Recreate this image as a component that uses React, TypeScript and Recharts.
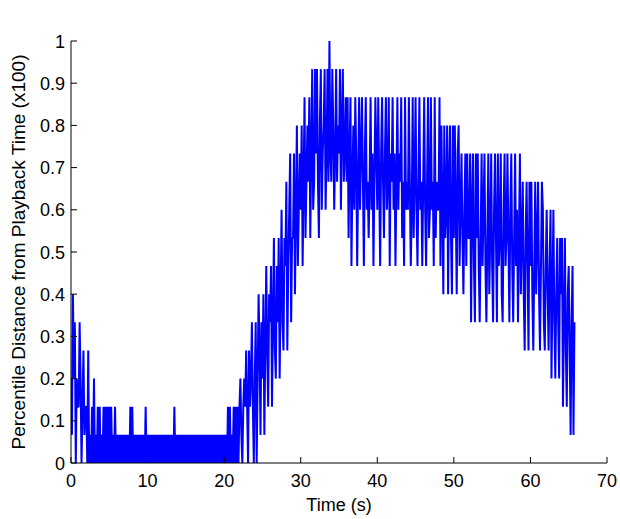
import React from 'react';
import { LineChart, Line, XAxis, YAxis } from 'recharts';

// Sampling period of the recorded trace (seconds) and quantisation of the
// buffer value: every sample sits on a multiple of 1/15.
const SAMPLE_PERIOD_S = 0.125;
const LEVELS_PER_UNIT = 15;

// Levels (in fifteenths), one row per second.
const startLevels = [
  3, 1, 6, 3, 5, 0, 3, 2,
  2, 5, 3, 0, 2, 4, 1, 2,
];

const flatLevels = [
  2, 0, 4, 0, 1, 0, 2, 0,
  3, 0, 1, 0, 2, 0, 2, 0,
  1, 0, 2, 0, 2, 0, 2, 0,
  2, 0, 2, 0, 1, 0, 2, 0,
  1, 0, 1, 0, 1, 0, 1, 0,
  1, 0, 1, 0, 1, 0, 2, 0,
  2, 0, 1, 0, 1, 0, 1, 0,
  1, 0, 1, 0, 1, 0, 2, 0,
  1, 0, 1, 0, 1, 0, 1, 0,
  1, 0, 1, 0, 1, 0, 1, 0,
  1, 0, 1, 0, 1, 0, 1, 0,
  1, 0, 1, 0, 2, 0, 1, 0,
  1, 0, 1, 0, 1, 0, 1, 0,
  1, 0, 1, 0, 1, 0, 1, 0,
  1, 0, 1, 0, 1, 0, 1, 0,
  1, 0, 1, 0, 1, 0, 1, 0,
  1, 0, 1, 0, 1, 0, 1, 0,
  1, 0, 1, 0, 1, 0, 1, 0,
  1, 0, 1, 0, 2, 0, 2, 0,
  1, 0, 2, 0, 2, 0, 2, 0,
];

const riseLevels = [
  2, 3, 1, 0, 2, 3, 2, 4,
  2, 0, 4, 2, 3, 5, 2, 0,
  3, 5, 0, 3, 6, 4, 1, 5,
  3, 6, 1, 4, 7, 4, 2, 6,
  5, 7, 2, 5, 8, 4, 3, 7,
  5, 8, 3, 6, 9, 5, 4, 8,
  7, 10, 4, 7, 9, 11, 5, 8,
  8, 11, 6, 9, 12, 7, 9, 11,
  9, 12, 7, 10, 13, 8, 10, 12,
];

const plateauLevels = [
  10, 13, 8, 11, 14, 9, 10, 14,
  11, 14, 10, 8, 12, 14, 9, 11,
  12, 14, 9, 11, 14, 10, 15, 11,
  10, 14, 12, 9, 11, 14, 10, 12,
  11, 14, 9, 12, 14, 10, 11, 13,
  10, 13, 8, 11, 13, 7, 10, 12,
  9, 13, 11, 7, 10, 13, 9, 11,
  13, 10, 7, 11, 13, 9, 10, 8,
  10, 13, 9, 11, 7, 10, 13, 11,
  9, 13, 10, 7, 11, 13, 10, 8,
  11, 13, 9, 10, 13, 7, 11, 10,
  13, 9, 11, 7, 10, 13, 9, 11,
  10, 13, 8, 10, 7, 13, 9, 10,
  9, 13, 10, 7, 9, 13, 8, 10,
  13, 9, 7, 10, 13, 9, 10, 7,
  10, 13, 9, 7, 10, 13, 8, 9,
  13, 9, 10, 7, 13, 8, 10, 9,
];

const declineLevels = [
  9, 13, 7, 12, 9, 6, 12, 8,
  9, 12, 6, 10, 12, 8, 6, 12,
  8, 12, 9, 6, 11, 12, 7, 9,
  11, 8, 6, 9, 11, 7, 11, 8,
  8, 11, 5, 9, 11, 7, 5, 11,
  8, 11, 7, 5, 8, 11, 7, 9,
  11, 7, 5, 8, 11, 6, 8, 11,
  7, 5, 9, 11, 8, 5, 11, 7,
  8, 11, 6, 5, 9, 11, 7, 8,
  11, 8, 5, 9, 11, 7, 5, 8,
  11, 7, 9, 5, 8, 11, 6, 8,
  10, 6, 4, 8, 10, 7, 4, 10,
  7, 10, 6, 4, 7, 10, 6, 8,
  10, 6, 4, 7, 10, 9, 5, 4,
  7, 9, 6, 4, 7, 9, 3, 6,
  9, 5, 3, 6, 8, 5, 3, 8,
  6, 8, 2, 5, 8, 4, 2, 6,
  7, 4, 1, 5, 7, 1, 5,
];

const bufferLevels = [
  ...startLevels,
  ...flatLevels,
  ...riseLevels,
  ...plateauLevels,
  ...declineLevels,
];

const data = bufferLevels.map((level, i) => ({
  t: i * SAMPLE_PERIOD_S,
  v: level / LEVELS_PER_UNIT,
}));

const xTicks = [0, 10, 20, 30, 40, 50, 60, 70];
const yTicks = [0, 0.1, 0.2, 0.3, 0.4, 0.5, 0.6, 0.7, 0.8, 0.9, 1];
const yTickLabels = ['0', '0.1', '0.2', '0.3', '0.4', '0.5', '0.6', '0.7', '0.8', '0.9', '1'];

const FONT = '"Liberation Sans", Arial, Helvetica, sans-serif';
const TICK_LEN = 6;
const TICK_FONT = 18;
const AXIS_COLOR = '#000';

function BottomTick(props: any) {
  const { x, y, payload } = props;
  return (
    <g>
      <line x1={x} y1={y} x2={x} y2={y - TICK_LEN} stroke={AXIS_COLOR} strokeWidth={1} />
      <text x={x} y={y + 24} textAnchor="middle" fontSize={TICK_FONT} fill="#000" fontFamily={FONT}>
        {payload.value}
      </text>
    </g>
  );
}

function TopTick(props: any) {
  const { x, y } = props;
  return <line x1={x} y1={y} x2={x} y2={y + TICK_LEN} stroke={AXIS_COLOR} strokeWidth={1} />;
}

function LeftTick(props: any) {
  const { x, y, payload, index } = props;
  const label = yTickLabels[index] ?? String(payload.value);
  return (
    <g>
      <line x1={x} y1={y} x2={x + TICK_LEN} y2={y} stroke={AXIS_COLOR} strokeWidth={1} />
      <text x={x - 6} y={y + 6.5} textAnchor="end" fontSize={TICK_FONT} fill="#000" fontFamily={FONT}>
        {label}
      </text>
    </g>
  );
}

function RightTick(props: any) {
  const { x, y } = props;
  return <line x1={x} y1={y} x2={x - TICK_LEN} y2={y} stroke={AXIS_COLOR} strokeWidth={1} />;
}

export default function App() {
  return (
    <div style={{ width: 620, height: 519, fontFamily: FONT, background: '#fff' }}>
      <style>{`body{margin:0;background:#fff}`}</style>
      <LineChart
        width={620}
        height={519}
        data={data}
        margin={{ top: 41, right: 13, bottom: 0, left: 0 }}
        style={{ fontFamily: FONT }}
      >
        <XAxis
          dataKey="t"
          type="number"
          domain={[0, 70]}
          ticks={xTicks}
          allowDataOverflow
          height={56}
          tickSize={0}
          tickMargin={0}
          tickLine={false}
          tick={<BottomTick />}
          axisLine={{ stroke: AXIS_COLOR }}
          interval={0}
          label={{ value: 'Time (s)', position: 'insideBottom', offset: 8, fill: '#000', fontSize: 18 }}
        />
        <XAxis
          xAxisId="top"
          orientation="top"
          dataKey="t"
          type="number"
          domain={[0, 70]}
          ticks={xTicks}
          allowDataOverflow
          height={0}
          tickSize={0}
          tickMargin={0}
          tickLine={false}
          tick={<TopTick />}
          axisLine={{ stroke: AXIS_COLOR }}
          interval={0}
          label={{ value: 'Receiver buffer', position: 'top', offset: 16, fill: '#000', fontSize: 14.5 }}
        />
        <YAxis
          type="number"
          domain={[0, 1]}
          ticks={yTicks}
          allowDataOverflow
          width={71}
          tickSize={0}
          tickMargin={0}
          tickLine={false}
          tick={<LeftTick />}
          axisLine={{ stroke: AXIS_COLOR }}
          interval={0}
          label={{
            value: 'Percentile Distance from Playback Time (x100)',
            angle: -90,
            position: 'insideLeft',
            offset: 18,
            fill: '#000',
            fontSize: 19,
            style: { textAnchor: 'middle' },
          }}
        />
        <YAxis
          yAxisId="right"
          orientation="right"
          type="number"
          domain={[0, 1]}
          ticks={yTicks}
          allowDataOverflow
          width={0}
          tickSize={0}
          tickMargin={0}
          tickLine={false}
          tick={<RightTick />}
          axisLine={{ stroke: AXIS_COLOR }}
          interval={0}
        />
        <Line
          type="linear"
          dataKey="v"
          stroke="#0000ff"
          strokeWidth={2}
          strokeLinejoin="bevel"
          dot={false}
          activeDot={false}
          isAnimationActive={false}
        />
      </LineChart>
    </div>
  );
}
